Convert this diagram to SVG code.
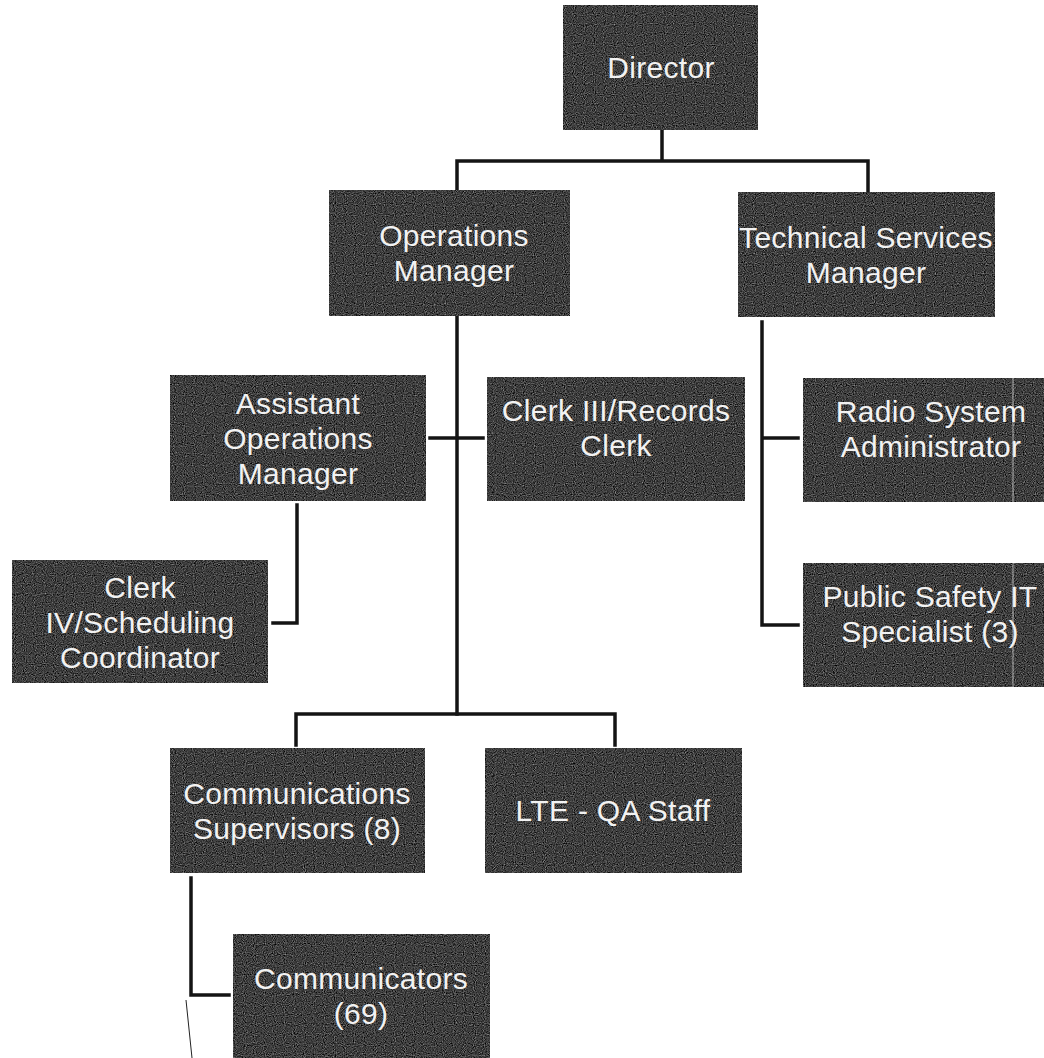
<svg xmlns="http://www.w3.org/2000/svg" width="1044" height="1058" viewBox="0 0 1044 1058">
<style>
.box{fill:#3d3d3d;filter:url(#grain)}
.lbl{font-family:"Liberation Sans",Arial,sans-serif;font-size:30px;letter-spacing:0.3px;fill:#f2f2f2;text-anchor:middle}
.con{stroke:#141414;stroke-width:3.5;fill:none;stroke-linecap:square}
</style>
<defs>
<filter id="grain" x="0" y="0" width="100%" height="100%" color-interpolation-filters="sRGB">
<feTurbulence type="fractalNoise" baseFrequency="0.9" numOctaves="1" seed="7"/>
<feColorMatrix type="matrix" values="0.33 0.33 0.33 0 0 0.33 0.33 0.33 0 0 0.33 0.33 0.33 0 0 0 0 0 0 1"/>
<feComponentTransfer>
<feFuncR type="linear" slope="1.5" intercept="-0.5"/>
<feFuncG type="linear" slope="1.5" intercept="-0.5"/>
<feFuncB type="linear" slope="1.5" intercept="-0.5"/>
</feComponentTransfer>
<feComposite in2="SourceGraphic" operator="in"/>
</filter>
</defs>
<rect width="1044" height="1058" fill="#ffffff"/>
<g id="connectors">
<path class="con" d="M662 130V161M457 161H868M457 161V190M868 161V192"/>
<path class="con" d="M457 316V714M430 438H483"/>
<path class="con" d="M297 505V623H273"/>
<path class="con" d="M762 322V625H798M762 438H798"/>
<path class="con" d="M296 714H615M296 714V745M615 714V745"/>
<path class="con" d="M191 878V995H229"/>
<path d="M186 1000L192 1058" stroke="#222" stroke-width="1" fill="none"/>
</g>
<g id="director"><rect class="box" x="563" y="5" width="195" height="125"/><text class="lbl" x="661" y="78">Director</text></g>
<g id="operations-manager"><rect class="box" x="329" y="190" width="241" height="126"/><text class="lbl" x="454" y="246">Operations<tspan x="454" dy="35">Manager</tspan></text></g>
<g id="technical-services-manager"><rect class="box" x="738" y="192" width="257" height="125"/><text class="lbl" x="866" y="248">Technical Services<tspan x="866" dy="35">Manager</tspan></text></g>
<g id="assistant-operations-manager"><rect class="box" x="170" y="375" width="256" height="126"/><text class="lbl" x="298" y="414">Assistant<tspan x="298" dy="35">Operations</tspan><tspan x="298" dy="35">Manager</tspan></text></g>
<g id="clerk-iii"><rect class="box" x="487" y="377" width="258" height="124"/><text class="lbl" x="616" y="421">Clerk III/Records<tspan x="616" dy="35">Clerk</tspan></text></g>
<g id="clerk-iv"><rect class="box" x="12" y="560" width="256" height="123"/><text class="lbl" x="140" y="598">Clerk<tspan x="140" dy="35">IV/Scheduling</tspan><tspan x="140" dy="35">Coordinator</tspan></text></g>
<g id="radio-system-administrator"><rect class="box" x="803" y="378" width="241" height="124"/><line x1="1013" y1="378" x2="1013" y2="502" stroke="#cfcfcf" stroke-width="0.8"/><text class="lbl" x="931" y="422">Radio System<tspan x="931" dy="35">Administrator</tspan></text></g>
<g id="public-safety-it-specialist"><rect class="box" x="803" y="563" width="241" height="124"/><line x1="1013" y1="563" x2="1013" y2="687" stroke="#cfcfcf" stroke-width="0.8"/><text class="lbl" x="930" y="607">Public Safety IT<tspan x="930" dy="35">Specialist (3)</tspan></text></g>
<g id="communications-supervisors"><rect class="box" x="170" y="748" width="255" height="125"/><text class="lbl" x="297" y="804">Communications<tspan x="297" dy="35">Supervisors (8)</tspan></text></g>
<g id="lte-qa-staff"><rect class="box" x="485" y="748" width="257" height="125"/><text class="lbl" x="613" y="821">LTE - QA Staff</text></g>
<g id="communicators"><rect class="box" x="233" y="934" width="257" height="125"/><text class="lbl" x="361" y="989">Communicators<tspan x="361" dy="35">(69)</tspan></text></g>
</svg>
